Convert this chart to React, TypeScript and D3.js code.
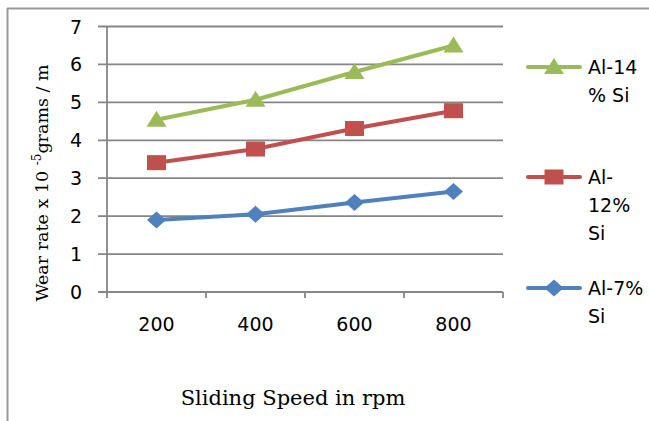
import React from "react";
import * as d3 from "d3";

const categories = ["200", "400", "600", "800"];
const yTicks = [0, 1, 2, 3, 4, 5, 6, 7];
const seriesNames = ["Al-14 % Si", "Al-12% Si", "Al-7% Si"];
const al14 = [4.54, 5.07, 5.8, 6.5];
const al12 = [3.41, 3.77, 4.31, 4.78];
const al7 = [1.9, 2.05, 2.36, 2.65];
const legendLines = [["Al-14", "% Si"], ["Al-", "12%", "Si"], ["Al-7%", "Si"]];
const colors = ["#9BBB59", "#C0504D", "#4F81BD"];
const markers = ["triangle", "square", "diamond"];

const W = 649;
const H = 421;
const plotL = 107, plotR = 503, plotT = 26.5, plotB = 292;

function Marker({ type, x, y, color }: { type: string; x: number; y: number; color: string }) {
  if (type === "triangle") {
    return <path d={`M${x},${y - 9}L${x + 10},${y + 7}L${x - 10},${y + 7}Z`} fill={color} />;
  }
  if (type === "square") {
    return <rect x={x - 9.5} y={y - 7.5} width={19} height={15} fill={color} />;
  }
  return <path d={`M${x},${y - 8.5}L${x + 9.5},${y}L${x},${y + 8.5}L${x - 9.5},${y}Z`} fill={color} />;
}

export default function App() {
  const x = d3.scaleBand<string>().domain(categories).range([plotL, plotR]).padding(0);
  const y = d3.scaleLinear().domain([0, 7]).range([plotB, plotT]);
  const data = [al14, al12, al7];
  const line = d3
    .line<number>()
    .x((_, i) => (x(categories[i]) as number) + x.bandwidth() / 2)
    .y((d) => y(d));
  const legendY = [67, 177, 288];
  const tickFont = "'DejaVu Sans', sans-serif";
  const serif = "'DejaVu Serif', serif";
  const grid = "#868686";

  return (
    <svg width={W} height={H} style={{ position: "absolute", left: 0, top: 0 }}>
      <rect x={0} y={0} width={W} height={H} fill="#fff" />
      {/* frame */}
      <line x1={7.5} y1={8} x2={7.5} y2={H} stroke="#999" strokeWidth={2} />
      <line x1={7} y1={8.5} x2={W} y2={8.5} stroke="#999" strokeWidth={2} />

      {/* gridlines */}
      {yTicks.map((t) => (
        <line key={t} x1={plotL - 9} x2={plotR} y1={y(t)} y2={y(t)} stroke={grid} strokeWidth={1.8} />
      ))}
      {/* y axis */}
      <line x1={plotL} x2={plotL} y1={plotT} y2={plotB} stroke={grid} strokeWidth={1.8} />
      {/* x ticks */}
      {[...categories.map((c) => x(c) as number), plotR].map((px, i) => (
        <line key={i} x1={px} x2={px} y1={plotB} y2={plotB + 6} stroke={grid} strokeWidth={1.8} />
      ))}

      {/* y tick labels */}
      {yTicks.map((t) => (
        <text key={t} x={82} y={y(t) + 7} textAnchor="end" fontFamily={tickFont} fontSize={19} fill="#000">
          {t}
        </text>
      ))}
      {/* x tick labels */}
      {categories.map((c) => (
        <text
          key={c}
          x={(x(c) as number) + x.bandwidth() / 2}
          y={331}
          textAnchor="middle"
          fontFamily={tickFont}
          fontSize={19}
          fill="#000"
        >
          {c}
        </text>
      ))}

      {/* series */}
      {data.map((vals, si) => (
        <g key={seriesNames[si]}>
          <path d={line(vals) as string} fill="none" stroke={colors[si]} strokeWidth={4} strokeLinejoin="round" />
          {vals.map((v, i) => (
            <Marker
              key={i}
              type={markers[si]}
              x={(x(categories[i]) as number) + x.bandwidth() / 2}
              y={y(v)}
              color={colors[si]}
            />
          ))}
        </g>
      ))}

      {/* legend */}
      {seriesNames.map((n, si) => (
        <g key={n}>
          <line x1={528} x2={580} y1={legendY[si]} y2={legendY[si]} stroke={colors[si]} strokeWidth={4} strokeLinecap="round" />
          <Marker type={markers[si]} x={554} y={legendY[si]} color={colors[si]} />
          {legendLines[si].map((l, li) => (
            <text key={li} x={588} y={legendY[si] + 7 + li * 28} fontFamily={tickFont} fontSize={19} fill="#000">
              {l}
            </text>
          ))}
        </g>
      ))}

      {/* axis titles */}
      <text
        transform={`translate(48,183) rotate(-90)`}
        textAnchor="middle"
        fontFamily={serif}
        fontSize={17.5}
        fill="#000"
      >
        Wear rate  x 10 <tspan dy={-7} fontSize={12}>-5</tspan>
        <tspan dy={7}>grams / m</tspan>
      </text>
      <text x={293} y={405} textAnchor="middle" fontFamily={serif} fontSize={21} fill="#000">
        Sliding Speed  in rpm
      </text>
    </svg>
  );
}
